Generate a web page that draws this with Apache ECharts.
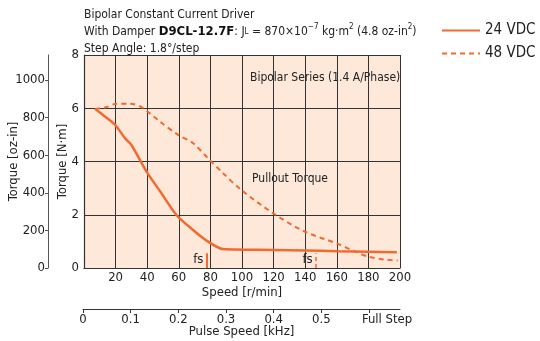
<!DOCTYPE html>
<html>
<head>
<meta charset="utf-8">
<script src="https://cdn.jsdelivr.net/npm/echarts@6/dist/echarts.min.js"></script>
<style>
	html, body { margin: 0; padding: 0; background: #fff; }
	#chart { width: 540px; height: 341px; }
</style>
</head>
<body>
<div id="chart"></div>
<script>
var FONT = '"DejaVu Sans Condensed", "Liberation Sans Narrow", Arial, sans-serif';
var ORANGE = '#f26a2e';

// speed [r/min], torque [N·m]
var speed24 = [7, 12, 19.6, 26, 30, 39.6, 49, 58.5, 69, 78.6, 88, 100, 120, 140, 160, 180, 198];
var torque24 = [5.97, 5.75, 5.38, 4.87, 4.62, 3.62, 2.81, 1.99, 1.43, 0.99, 0.71, 0.69, 0.68, 0.66, 0.63, 0.61, 0.59];

var speed48 = [7, 14, 20.6, 29, 36.4, 48, 59.6, 69, 78.5, 88, 99.6, 119.6, 139.6, 159.6, 170, 179.6, 190, 198.6];
var torque48 = [5.97, 6.04, 6.17, 6.17, 6.04, 5.5, 5.0, 4.69, 4.12, 3.56, 2.93, 2.06, 1.37, 0.93, 0.66, 0.43, 0.32, 0.28];

var fs24 = 77.5;
var fs48 = 146.6;

var pulseTicks = ['0', '0.1', '0.2', '0.3', '0.4', '0.5', 'Full Step'];
var nmToOzIn = 141.6;

function pairs(xs, ys) {
	return xs.map(function (x, i) { return [x, ys[i]]; });
}

var chart = echarts.init(document.getElementById('chart'));

var option = {
	animation: false,
	textStyle: { fontFamily: FONT },
	title: {
		left: 79,
		top: 1,
		text: 'Bipolar Constant Current Driver\nWith Damper {b|D9CL-12.7F}: J{s|L} = 870×10{sup|−7} kg·m{sup|2} (4.8 oz-in{sup|2})\nStep Angle: 1.8°/step',
		textStyle: {
			fontFamily: FONT,
			fontSize: 12,
			fontWeight: 'normal',
			color: '#222',
			lineHeight: 17,
			rich: {
				b: { fontFamily: FONT, fontSize: 13, fontWeight: 'bold', color: '#111', lineHeight: 17 },
				s: { fontFamily: FONT, fontSize: 8, color: '#222', lineHeight: 17 },
				sup: { fontFamily: FONT, fontSize: 8, color: '#222', verticalAlign: 'top', lineHeight: 12 }
			}
		}
	},
	legend: {
		left: 441,
		top: 23,
		padding: 0,
		orient: 'vertical',
		itemWidth: 38,
		itemHeight: 12,
		itemGap: 8,
		itemStyle: { opacity: 0 },
		textStyle: { fontFamily: FONT, fontSize: 15, color: '#222' },
		data: ['24 VDC', '48 VDC']
	},
	grid: [
		{ left: 84, right: 140, top: 55, bottom: 73, show: true, backgroundColor: '#fde8da', borderWidth: 0, outerBoundsMode: 'none', containLabel: false },
		{ left: 83, right: 140, top: 308, bottom: 32, outerBoundsMode: 'none', containLabel: false }
	],
	xAxis: [
		{
			gridIndex: 0,
			type: 'value',
			min: 0,
			max: 200,
			interval: 20,
			name: 'Speed [r/min]',
			nameLocation: 'middle',
			nameGap: 18,
			nameMoveOverlap: false,
			nameTextStyle: { fontFamily: FONT, fontSize: 13, color: '#222' },
			axisLine: { lineStyle: { color: '#333', width: 1.2 } },
			axisTick: { show: false },
			axisLabel: {
				fontFamily: FONT, fontSize: 13, color: '#222', margin: 3,
				formatter: function (v) { return v === 0 ? '' : String(v); }
			},
			splitLine: { show: true, lineStyle: { color: '#333', width: 1 } }
		},
		{
			gridIndex: 1,
			type: 'value',
			min: 0,
			max: 0.665,
			interval: 0.1,
			name: 'Pulse Speed [kHz]',
			nameLocation: 'middle',
			nameGap: 16,
			nameMoveOverlap: false,
			nameTextStyle: { fontFamily: FONT, fontSize: 13, color: '#222' },
			axisLine: { onZero: false, lineStyle: { color: '#333', width: 1 } },
			axisTick: { show: true, length: 4, lineStyle: { color: '#333' } },
			axisLabel: {
				fontFamily: FONT, fontSize: 13, color: '#222', margin: 4,
				showMaxLabel: false,
				formatter: function (v) {
					var i = Math.round(v * 10);
					return i === 6 ? '{l|' + pulseTicks[i] + '}' : (pulseTicks[i] || '');
				},
				rich: { l: { fontFamily: FONT, fontSize: 13, color: '#222', align: 'left', padding: [0, 0, 0, 36] } }
			},
			splitLine: { show: false }
		}
	],
	yAxis: [
		{
			gridIndex: 0,
			type: 'value',
			min: 0,
			max: 8,
			interval: 2,
			name: 'Torque [N·m]',
			nameLocation: 'middle',
			nameGap: 15,
			nameMoveOverlap: false,
			nameTextStyle: { fontFamily: FONT, fontSize: 13, color: '#222' },
			axisLine: { show: true, lineStyle: { color: '#333', width: 1.2 } },
			axisTick: { show: false },
			axisLabel: { fontFamily: FONT, fontSize: 13, color: '#222', margin: 5 },
			splitLine: { show: true, lineStyle: { color: '#333', width: 1 } }
		},
		{
			gridIndex: 0,
			type: 'value',
			position: 'left',
			offset: 36,
			min: 0,
			max: 8 * nmToOzIn,
			interval: 200,
			name: 'Torque [oz-in]',
			nameLocation: 'middle',
			nameGap: 28,
			nameMoveOverlap: false,
			nameTextStyle: { fontFamily: FONT, fontSize: 13, color: '#222' },
			axisLine: { show: true, lineStyle: { color: '#555', width: 1 } },
			axisTick: { show: true, length: 3, lineStyle: { color: '#555' } },
			axisLabel: {
				fontFamily: FONT, fontSize: 13, color: '#222', margin: 3, showMaxLabel: false,
				formatter: function (v) { return String(v); }
			},
			splitLine: { show: false }
		},
		{
			gridIndex: 1,
			type: 'value',
			min: 0,
			max: 1,
			show: false
		}
	],
	graphic: [
		{ type: 'text', left: 250, top: 72, style: { text: 'Bipolar Series (1.4 A/Phase)', font: '12px ' + FONT, fill: '#222' } },
		{ type: 'text', left: 252, top: 173, style: { text: 'Pullout Torque', font: '12px ' + FONT, fill: '#222' } }
	],
	series: [
		{
			name: '24 VDC',
			type: 'line',
			xAxisIndex: 0,
			yAxisIndex: 0,
			smooth: 0.3,
			symbol: 'none',
			color: ORANGE,
			lineStyle: { color: ORANGE, width: 2.5 },
			data: pairs(speed24, torque24),
			markLine: {
				silent: true,
				symbol: 'none',
				label: { show: false },
				lineStyle: { color: ORANGE, width: 2, type: 'solid' },
				data: [[{ coord: [fs24, 0] }, { coord: [fs24, 0.55] }]]
			},
			markPoint: {
				symbol: 'circle',
				symbolSize: 0,
				label: { show: true, formatter: 'fs', fontFamily: FONT, fontSize: 13, color: '#222', position: 'left', distance: 3 },
				data: [{ coord: [fs24, 0.3] }]
			}
		},
		{
			name: '48 VDC',
			type: 'line',
			xAxisIndex: 0,
			yAxisIndex: 0,
			smooth: 0.3,
			symbol: 'none',
			color: ORANGE,
			lineStyle: { color: ORANGE, width: 2, type: [5, 4] },
			data: pairs(speed48, torque48),
			markLine: {
				silent: true,
				symbol: 'none',
				label: { show: false },
				lineStyle: { color: ORANGE, width: 1.5, type: [4, 3] },
				data: [[{ coord: [fs48, 0] }, { coord: [fs48, 0.55] }]]
			},
			markPoint: {
				symbol: 'circle',
				symbolSize: 0,
				label: { show: true, formatter: 'fs', fontFamily: FONT, fontSize: 13, color: '#222', position: 'left', distance: 3 },
				data: [{ coord: [fs48, 0.3] }]
			}
		}
	]
};

chart.setOption(option);
</script>
</body>
</html>
